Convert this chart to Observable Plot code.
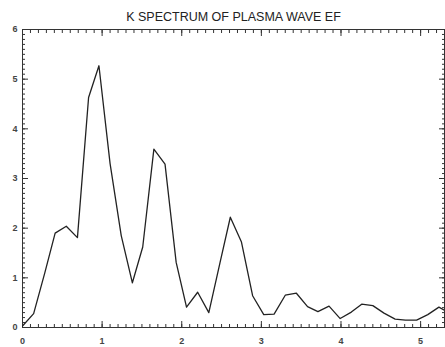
<!DOCTYPE html>
<html>
<head>
<meta charset="utf-8">
<script src="https://cdn.jsdelivr.net/npm/d3@7"></script>
<script src="https://cdn.jsdelivr.net/npm/@observablehq/plot@0.6"></script>
<style>
  html, body { margin: 0; padding: 0; background: #fff; }
</style>
</head>
<body>
<div id="chart"></div>
<script>
const title = "K SPECTRUM OF PLASMA WAVE EF";
const kValues = [0.00, 0.14, 0.28, 0.41, 0.55, 0.69, 0.83, 0.96, 1.10, 1.24,
                 1.38, 1.51, 1.65, 1.79, 1.93, 2.06, 2.20, 2.34, 2.48, 2.61,
                 2.75, 2.89, 3.03, 3.16, 3.30, 3.44, 3.58, 3.71, 3.85, 3.99,
                 4.13, 4.26, 4.40, 4.54, 4.68, 4.81, 4.95, 5.09, 5.23, 5.36];
const efValues = [0.03, 0.28, 1.10, 1.90, 2.04, 1.81, 4.63, 5.27, 3.30, 1.85,
                  0.90, 1.62, 3.59, 3.29, 1.31, 0.41, 0.71, 0.30, 1.30, 2.22,
                  1.72, 0.64, 0.26, 0.27, 0.65, 0.69, 0.42, 0.32, 0.43, 0.18,
                  0.31, 0.47, 0.44, 0.29, 0.17, 0.15, 0.15, 0.26, 0.41, 0.29];
const xMajor = [0, 1, 2, 3, 4, 5];
const xMinor = d3.range(0, 53).map(i => i / 10);
const yMajor = [0, 1, 2, 3, 4, 5, 6];
const yMinor = d3.range(0, 61).map(i => i / 10);

const data = kValues.map((k, i) => ({k, ef: efValues[i]}));
const ink = "#333";
const noText = () => "";
const intFmt = d3.format("d");

const chart = Plot.plot({
  width: 445,
  height: 347,
  marginLeft: 22,
  marginRight: 1,
  marginTop: 29,
  marginBottom: 20,
  style: {fontFamily: "'Liberation Sans', Arial, sans-serif", background: "#fff", color: ink},
  x: {domain: [0, 5.3], label: null},
  y: {domain: [0, 6], label: null},
  marks: [
    Plot.axisX({anchor: "bottom", ticks: xMinor, tickSize: -3, tickFormat: noText, stroke: ink}),
    Plot.axisX({anchor: "bottom", ticks: xMajor, tickSize: -6, tickFormat: noText, stroke: ink}),
    Plot.axisX({anchor: "top", ticks: xMinor, tickSize: -3, tickFormat: noText, stroke: ink}),
    Plot.axisX({anchor: "top", ticks: xMajor, tickSize: -6, tickFormat: noText, stroke: ink}),
    Plot.axisY({anchor: "left", ticks: yMinor, tickSize: -3, tickFormat: noText, stroke: ink}),
    Plot.axisY({anchor: "left", ticks: yMajor, tickSize: -6, tickFormat: noText, stroke: ink}),
    Plot.axisY({anchor: "right", ticks: yMinor, tickSize: -3, tickFormat: noText, stroke: ink}),
    Plot.axisY({anchor: "right", ticks: yMajor, tickSize: -6, tickFormat: noText, stroke: ink}),
    Plot.axisX({anchor: "bottom", ticks: xMajor, tickSize: 0, tickPadding: 10, tickFormat: intFmt, fontSize: 9, fontWeight: "bold", fill: "#444"}),
    Plot.axisY({anchor: "left", ticks: yMajor, tickSize: 0, tickPadding: 5, tickFormat: intFmt, fontSize: 9, fontWeight: "bold", fill: "#444"}),
    Plot.frame({stroke: ink, strokeWidth: 1}),
    Plot.line(data, {x: "k", y: "ef", stroke: "#222", strokeWidth: 1.3, clip: true}),
    Plot.text([title], {frameAnchor: "top", dy: -9, lineAnchor: "bottom", fontSize: 12.5, fill: "#222"})
  ]
});
document.getElementById("chart").appendChild(chart);
</script>
</body>
</html>
